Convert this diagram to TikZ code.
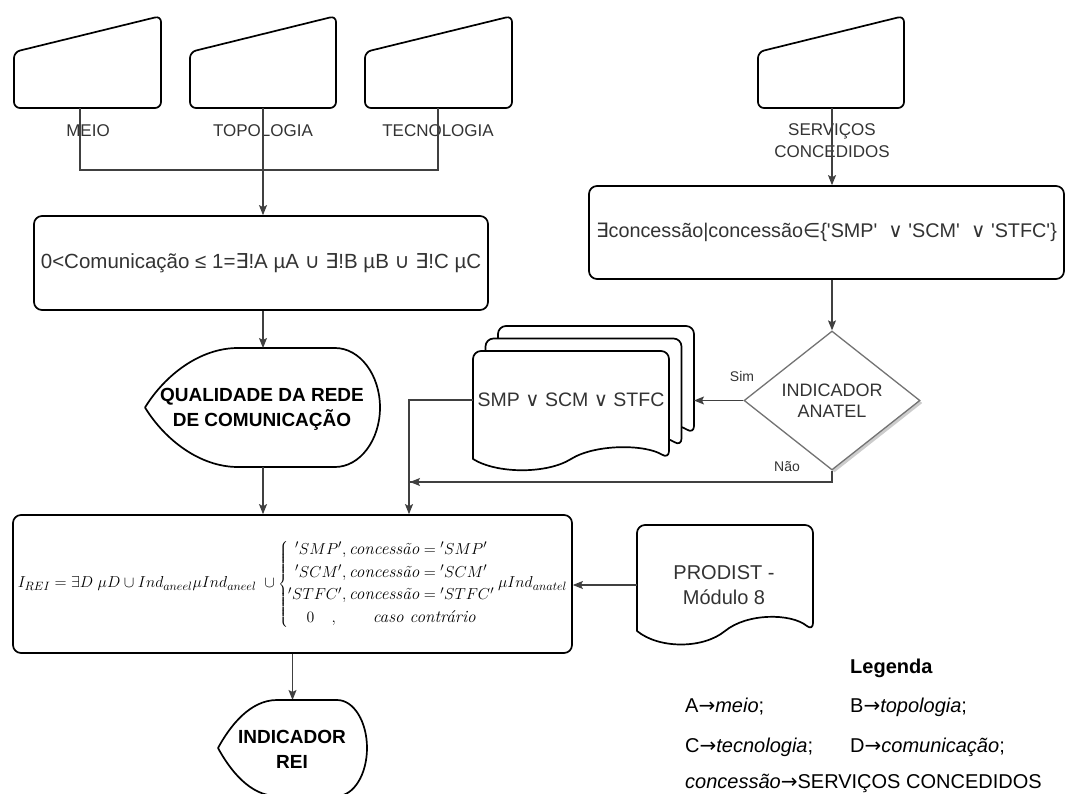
\documentclass[tikz,border=0pt]{standalone}
\usepackage{fontspec}
\newfontfamily\arialfont{Liberation Sans}
\newfontfamily\dejafont{DejaVu Sans}
\usetikzlibrary{arrows.meta,shapes.geometric,shadows}
\newcommand{\sy}[1]{{\dejafont #1}}
\tikzset{
  outline/.style={draw=black, line width=1.7pt, line join=round, fill=white},
  procbox/.style={outline, rounded corners=8pt, inner sep=2pt, text=black!80, font=\arialfont\fontsize{20.5}{24}\selectfont},
  conn/.style={draw=black!75, line width=1.1pt},
  arr/.style={conn, -{Stealth[length=10pt,width=8pt,inset=2pt]}},
  lbl/.style={text=black!80, align=center, font=\arialfont\fontsize{17}{22}\selectfont},
  termtext/.style={align=center, font=\arialfont\bfseries\fontsize{19}{25}\selectfont},
  decision/.style={diamond, draw=black!55, line width=1.3pt, fill=white, minimum width=176pt, minimum height=139pt, inner sep=0pt, align=center, text=black!80, font=\arialfont\fontsize{18}{21}\selectfont, drop shadow={shadow xshift=2.5pt, shadow yshift=-2.5pt, fill=black!40}},
  legtext/.style={anchor=west, inner sep=0pt, font=\arialfont\fontsize{20}{24}\selectfont}
}
\begin{document}
\begin{tikzpicture}[x=1pt,y=-1pt]
\useasboundingbox (0,0) rectangle (1070,794);

\foreach \xa/\xb in {14/161,190/336,365/512,758/904}
  \draw[outline, rounded corners=6pt] (\xa,52) -- (\xb,16) -- (\xb,108) -- (\xa,108) -- cycle;
\node[lbl] (meio) at (88,131) {MEIO};
\node[lbl] (topologia) at (263,131) {TOPOLOGIA};
\node[lbl] (tecnologia) at (438,131) {TECNOLOGIA};
\node[lbl] (servicos) at (832,141) {SERVIÇOS\\CONCEDIDOS};
\coordinate (meio-b) at (80,108);
\coordinate (topo-b) at (263,108);
\coordinate (tecno-b) at (438,108);
\coordinate (serv-b) at (832,108);
\coordinate (join) at (263,170);

\node[procbox, minimum width=454pt, minimum height=94pt] (comun) at (261,263)
  {0<Comunicação ≤ 1=\sy{∃}!A µA \sy{∪} \sy{∃}!B µB \sy{∪} \sy{∃}!C µC};
\node[procbox, minimum width=475pt, minimum height=93pt, font=\arialfont\fontsize{19.8}{24}\selectfont] (concess) at (826.5,232.5)
  {\sy{∃}concessão|concessão\sy{∈}\{'SMP'~~\sy{∨}~'SCM'~~\sy{∨}~'STFC'\}};

\draw[conn] (meio-b) |- (join) -| (tecno-b);
\draw[conn] (topo-b) -- (join);
\draw[arr] (join) -- (join |- comun.north);
\draw[arr] (serv-b) -- (serv-b |- concess.north);

% display: qualidade
\draw[outline] (238,348) -- (335,348) .. controls (360,348) and (380,375) .. (380,407.5)
  .. controls (380,440) and (360,467) .. (335,467) -- (238,467)
  .. controls (200,467) and (165,440) .. (145,407.5)
  .. controls (165,375) and (200,348) .. (238,348) -- cycle;
\node[termtext] (qualid) at (262,409.5) {QUALIDADE DA REDE\\DE COMUNICAÇÃO};
\coordinate (qual-n) at (263,348);
\coordinate (qual-s) at (263,467);
\draw[arr] (comun.south -| join) -- (qual-n);

% multi document
\foreach \s in {25,12.5,0}
  \draw[outline, shift={(\s,-\s)}] (473,459) [rounded corners=8pt] -- (473,351) -- (669,351) -- (669,459) [sharp corners]
    .. controls (645,444) and (595,444) .. (571,459) .. controls (547,474) and (497,474) .. (473,459) -- cycle;
\node[text=black!80, font=\arialfont\fontsize{19.5}{24}\selectfont] (smp) at (571,400) {SMP \sy{∨} SCM \sy{∨} STFC};
\coordinate (docs-w) at (473,400);
\coordinate (docs-e) at (694,400);
\coordinate (bend) at (409,400);

\node[decision] (anatel) at (832,400.5) {INDICADOR\\ANATEL};
\draw[arr] (concess.south -| anatel.north) -- (anatel.north);
\draw[arr] (anatel.west) -- (anatel.west -| docs-e);
\node[text=black!80, font=\arialfont\fontsize{14}{16}\selectfont] (sim) at (742,376) {Sim};
\node[text=black!80, font=\arialfont\fontsize{14}{16}\selectfont] (nao) at (787,467) {Não};

% main formula
\node[procbox, minimum width=559pt, minimum height=138pt, inner sep=0pt, text=black, font=\fontsize{15.6}{19.5}\selectfont] (irei) at (292.5,584)
  {\scalebox{1.1}{\renewcommand{\arraystretch}{1.05}$I_{REI}=\exists D\;\mu D\cup Ind_{aneel}\mu Ind_{aneel}\;\cup\left\{\begin{array}{@{}c@{}}
  'SMP',\textit{concessão}={}'SMP'\\
  'SCM',\textit{concessão}={}'SCM'\\
  'STFC',\textit{concessão}={}'STFC'\\
  0\quad,\qquad\textit{caso contrário}
  \end{array}\right.\mu Ind_{anatel}$}};
\coordinate (nao-end) at (410,482);
\draw[conn] (anatel.south) |- (nao-end);
\draw[arr] (anatel.south |- nao-end) -- (nao-end);
\draw[arr] (qual-s) -- (qual-s |- irei.north);
\draw[arr] (docs-w) -- (bend) -- (bend |- irei.north);

% document: prodist
\draw[outline] (637,631) [rounded corners=8pt] -- (637,525) -- (813,525) -- (813,631) [sharp corners]
  .. controls (791,613) and (747,613) .. (725,631) .. controls (703,649) and (659,649) .. (637,631) -- cycle;
\node[text=black!80, align=center, font=\arialfont\fontsize{20}{25}\selectfont] (prodist) at (724,585.5) {PRODIST -\\Módulo 8};
\coordinate (prod-w) at (637,585);
\draw[arr] (prod-w) -- (prod-w -| irei.east);

% display: indicador rei
\coordinate (rei-n) at (292.5,700);
\draw[arr] (irei.south) -- (rei-n);
\draw[outline] (277,700) -- (337,700) .. controls (354,700) and (367,722) .. (367,748)
  .. controls (367,774) and (354,796) .. (337,796) -- (277,796)
  .. controls (250,796) and (230,770) .. (218,748)
  .. controls (230,726) and (250,700) .. (277,700) -- cycle;
\node[termtext] (rei) at (292,749.5) {INDICADOR\\REI};

% legenda
\node[legtext, font=\arialfont\bfseries\fontsize{20}{24}\selectfont] (leg-title) at (850,668) {Legenda};
\node[legtext] (leg-a) at (685,707) {A\sy{→}\textit{meio};};
\node[legtext] (leg-b) at (850,707) {B\sy{→}\textit{topologia};};
\node[legtext] (leg-c) at (685,747) {C\sy{→}\textit{tecnologia};};
\node[legtext] (leg-d) at (850,747) {D\sy{→}\textit{comunicação};};
\node[legtext] (leg-e) at (685,783) {\textit{concessão}\sy{→}SERVIÇOS CONCEDIDOS};
\end{tikzpicture}
\end{document}
